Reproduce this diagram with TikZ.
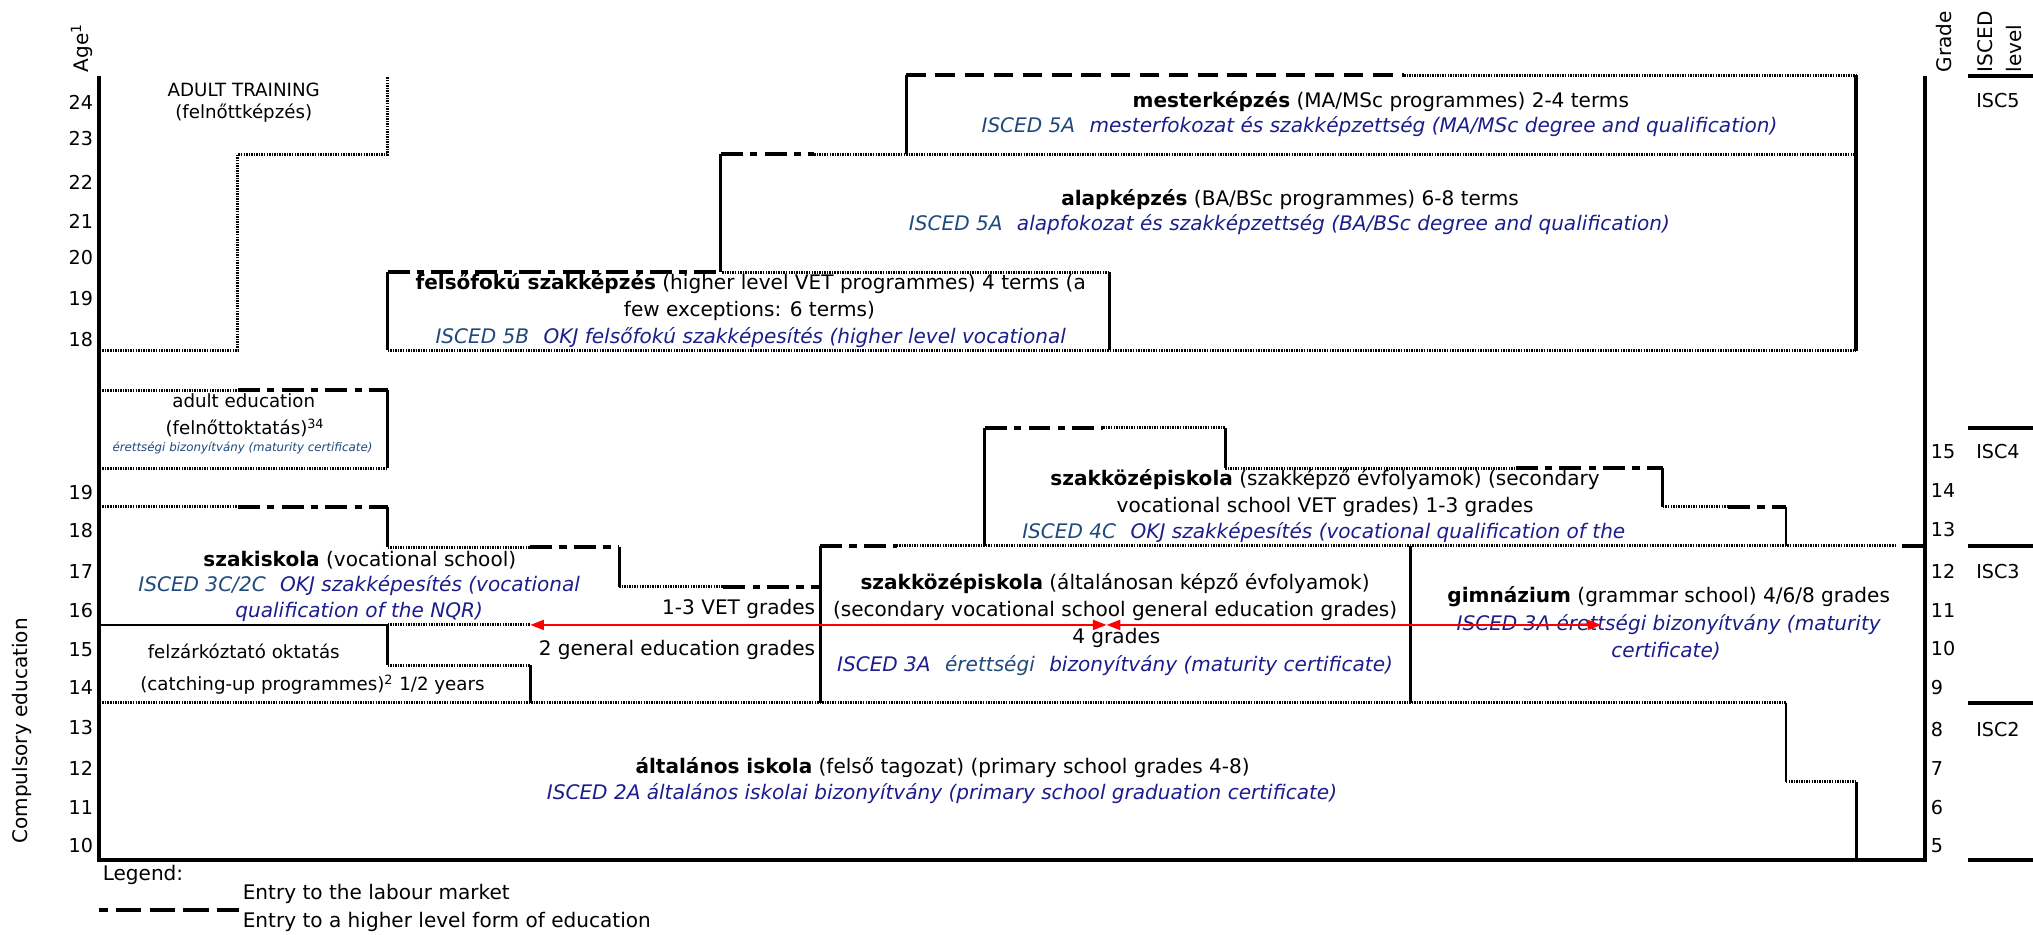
\documentclass[tikz,border=0pt]{standalone}
\usepackage{fontspec}
\setmainfont{DejaVu Sans}
\usetikzlibrary{arrows.meta}
\definecolor{navy}{RGB}{28,28,140}
\definecolor{steel}{RGB}{31,73,125}

\tikzset{
  market/.style={line width=1.6pt, dash pattern=on 0.8pt off 0.6pt},
  further/.style={line width=1.9pt, dash pattern=on 10.7pt off 5.3pt},
  mixed/.style={line width=2.2pt, dash pattern=on 12pt off 4pt on 4pt off 4pt},
  wall/.style={line width=1.6pt},
  frame/.style={line width=2.2pt},
  txt/.style={font=\fontsize{11}{13}\selectfont, inner sep=0pt},
  smalltxt/.style={font=\fontsize{10}{12}\selectfont, inner sep=0pt},
  tinytxt/.style={font=\fontsize{6.5}{8}\selectfont\itshape, text=steel, inner sep=0pt},
  isced/.style={font=\fontsize{11}{13}\selectfont\itshape, text=navy, inner sep=0pt},
  num/.style={font=\fontsize{10.5}{12}\selectfont, inner sep=0pt},
  redarrow/.style={red, line width=1.1pt, {Triangle[length=7.5pt,width=5.5pt]}-{Triangle[length=7.5pt,width=5.5pt]}}
}

\begin{document}
\begin{tikzpicture}[x=0.025cm,y=-0.025cm]
\useasboundingbox (0,0) rectangle (1568,721);

% frame and ISCED bars
\draw[frame] (76,59) -- (76,663) -- (1485,663) -- (1485,59);
\draw[frame] (1518,59) -- (1568,59);
\draw[frame] (1518,330) -- (1568,330);
\draw[frame] (1518,421) -- (1568,421);
\draw[frame] (1518,542) -- (1568,542);
\draw[frame] (1518,663) -- (1568,663);

% adult training
\draw[market] (77,270) -- (183.5,270) -- (183.5,119) -- (299,119) -- (299,59);

% higher education
\draw[wall] (699,119) -- (699,58);
\draw[further] (699,58) -- (1083,58);
\draw[market] (1083,58) -- (1431.5,58);
\draw[frame] (1431.5,58) -- (1431.5,271);
\draw[wall] (556,210) -- (556,119);
\draw[mixed] (556,119) -- (628,119);
\draw[market] (628,119) -- (1431.5,119);
\draw[wall] (299,270) -- (299,210);
\draw[mixed] (299,210) -- (557,210);
\draw[market] (557,210) -- (856,210);
\draw[wall] (856,210) -- (856,270);
\draw[market] (299,270) -- (1431.5,270);

% adult education
\draw[market] (77,301) -- (183.5,301);
\draw[mixed] (183.5,301) -- (299,301);
\draw[wall] (299,301) -- (299,361);
\draw[market] (77,361) -- (299,361);

% szakiskola
\draw[market] (77,391) -- (183.5,391);
\draw[mixed] (183.5,391) -- (299,391);
\draw[wall] (299,391) -- (299,422);
\draw[market] (299,422) -- (409,422);
\draw[mixed] (409,422) -- (477.5,422);
\draw[wall] (477.5,422) -- (477.5,452.5);
\draw[market] (477.5,452.5) -- (558,452.5);
\draw[mixed] (558,452.5) -- (632.5,452.5);
\draw[line width=0.7pt] (77,482) -- (299,482);
\draw[market] (299,482) -- (409,482);
\draw[wall] (299,482) -- (299,513);
\draw[market] (299,513) -- (409,513);
\draw[wall] (409,513) -- (409,542);

% secondary schools
\draw[wall] (632.5,421) -- (632.5,542);
\draw[mixed] (632.5,421) -- (691.5,421);
\draw[market] (691.5,421) -- (1462,421);
\draw[frame] (1467,421) -- (1485,421);
\draw[wall] (1088,421) -- (1088,542);
\draw[market] (77,542) -- (1377.5,542);
\draw[wall] (759.5,421) -- (759.5,330);
\draw[mixed] (759.5,330) -- (851,330);
\draw[market] (851,330) -- (945,330);
\draw[wall] (945,330) -- (945,361);
\draw[market] (945,361) -- (1169,361);
\draw[mixed] (1169,361) -- (1282.5,361);
\draw[wall] (1282.5,361) -- (1282.5,391);
\draw[market] (1282.5,391) -- (1333,391);
\draw[mixed] (1333,391) -- (1377.5,391);
\draw[wall] (1377.5,391) -- (1377.5,421);

% primary school
\draw[wall] (1377.5,542) -- (1377.5,603);
\draw[market] (1377.5,603) -- (1432,603);
\draw[wall] (1432,603) -- (1432,663);

% axis labels
\node[txt, rotate=90, anchor=west] (age) at (63,56) {Age\textsuperscript{1}};
\node[txt, rotate=90, anchor=west] (comp) at (17,651) {Compulsory education};
\node[txt, rotate=90, anchor=west] (grade) at (1499,56) {Grade};
\node[txt, rotate=90, anchor=west] (isc) at (1531,56) {ISCED};
\node[txt, rotate=90, anchor=west] (lev) at (1553,56) {level};

\node[num, anchor=east] (a24) at (72,79) {24};
\node[num, anchor=east] (a23) at (72,106.5) {23};
\node[num, anchor=east] (a22) at (72,141) {22};
\node[num, anchor=east] (a21) at (72,171) {21};
\node[num, anchor=east] (a20) at (72,199) {20};
\node[num, anchor=east] (a19) at (72,230.5) {19};
\node[num, anchor=east] (a18) at (72,261.5) {18};
\node[num, anchor=east] (b19) at (72,379.5) {19};
\node[num, anchor=east] (b18) at (72,409.5) {18};
\node[num, anchor=east] (b17) at (72,441) {17};
\node[num, anchor=east] (b16) at (72,471) {16};
\node[num, anchor=east] (b15) at (72,501) {15};
\node[num, anchor=east] (b14) at (72,530) {14};
\node[num, anchor=east] (b13) at (72,561.5) {13};
\node[num, anchor=east] (b12) at (72,593) {12};
\node[num, anchor=east] (b11) at (72,623) {11};
\node[num, anchor=east] (b10) at (72,652) {10};

\node[num, anchor=west] (g15) at (1489,348.5) {15};
\node[num, anchor=west] (g14) at (1489,378.5) {14};
\node[num, anchor=west] (g13) at (1489,408.5) {13};
\node[num, anchor=west] (g12) at (1489,440.5) {12};
\node[num, anchor=west] (g11) at (1489,470.5) {11};
\node[num, anchor=west] (g10) at (1489,500.5) {10};
\node[num, anchor=west] (g9) at (1489,530) {9};
\node[num, anchor=west] (g8) at (1489,562.5) {8};
\node[num, anchor=west] (g7) at (1489,593) {7};
\node[num, anchor=west] (g6) at (1489,623) {6};
\node[num, anchor=west] (g5) at (1489,652) {5};

\node[num, anchor=west] (i5) at (1524,77.5) {ISC5};
\node[num, anchor=west] (i4) at (1524,348.5) {ISC4};
\node[num, anchor=west] (i3) at (1524,440.5) {ISC3};
\node[num, anchor=west] (i2) at (1524,562.5) {ISC2};

% programme texts
\node[smalltxt] (at1) at (188,69) {ADULT TRAINING};
\node[smalltxt] (at2) at (188,87) {(felnőttképzés)};

\node[txt] (m1) at (1065,78) {\textbf{mesterképzés} (MA/MSc programmes) 2-4 terms};
\node[isced] (m2) at (1064,98) {\textcolor{steel}{ISCED 5A}\hspace{0.4em} mesterfokozat és szakképzettség (MA/MSc degree and qualification)};
\node[txt] (b1) at (995,154) {\textbf{alapképzés} (BA/BSc programmes) 6-8 terms};
\node[isced] (b2) at (994.5,173.5) {\textcolor{steel}{ISCED 5A}\hspace{0.4em} alapfokozat és szakképzettség (BA/BSc degree and qualification)};
\node[txt] (f1) at (579,219) {\textbf{felsőfokú szakképzés} (higher level VET programmes) 4 terms (a};
\node[txt] (f2) at (578,240) {few exceptions: 6 terms)};
\node[isced] (f3) at (579,260) {\textcolor{steel}{ISCED 5B}\hspace{0.4em} OKJ felsőfokú szakképesítés (higher level vocational};

\node[smalltxt] (ae1) at (188,309) {adult education};
\node[smalltxt] (ae2) at (189,330) {(felnőttoktatás)\textsuperscript{34}};
\node[tinytxt] (ae3) at (187,345.5) {érettségi bizonyítvány (maturity certificate)};

\node[txt] (s1) at (277.5,432) {\textbf{szakiskola} (vocational school)};
\node[isced] (s2) at (277,452) {\textcolor{steel}{ISCED 3C/2C}\hspace{0.4em} OKJ szakképesítés (vocational};
\node[isced] (s3) at (277,472) {qualification of the NQR)};
\node[smalltxt] (c1) at (188,502) {felzárkóztató oktatás};
\node[smalltxt] (c2) at (241,528) {(catching-up programmes)\textsuperscript{2} 1/2 years};
\node[txt, anchor=east] (v1) at (629,470) {1-3 VET grades};
\node[txt, anchor=east] (v2) at (629,501) {2 general education grades};

\node[txt] (k1) at (860,450) {\textbf{szakközépiskola} (általánosan képző évfolyamok)};
\node[txt] (k2) at (860,471) {(secondary vocational school general education grades)};
\node[txt] (k3) at (861,492) {4 grades};
\node[isced] (k4) at (860,513) {ISCED 3A\hspace{0.4em} \textcolor{steel}{érettségi}\hspace{0.4em} bizonyítvány (maturity certificate)};

\node[txt] (e1) at (1022,370) {\textbf{szakközépiskola} (szakképző évfolyamok) (secondary};
\node[txt] (e2) at (1022,391) {vocational school VET grades) 1-3 grades};
\node[isced] (e3) at (1021,411) {\textcolor{steel}{ISCED 4C}\hspace{0.4em} OKJ szakképesítés (vocational qualification of the};

\node[txt] (gy1) at (1287,460.5) {\textbf{gimnázium} (grammar school) 4/6/8 grades};
\node[isced] (gy2) at (1287,482) {ISCED 3A érettségi bizonyítvány (maturity};
\node[isced] (gy3) at (1285,502.5) {certificate)};

\node[txt] (p1) at (727,592) {\textbf{általános iskola} (felső tagozat) (primary school grades 4-8)};
\node[isced] (p2) at (726.5,612) {ISCED 2A általános iskolai bizonyítvány (primary school graduation certificate)};

% legend
\node[txt, anchor=west] (l0) at (79,675) {Legend:};
\node[txt, anchor=west] (l1) at (187,689.5) {Entry to the labour market};
\node[txt, anchor=west] (l2) at (187,711) {Entry to a higher level form of education};
\draw[line width=1.9pt, dash pattern=on 14pt off 4.5pt, dash phase=9pt] (76,702) -- (184,702);

% red arrows
\coordinate (pl) at (409,482);
\coordinate (pm) at (853.5,482);
\coordinate (pr) at (1235,482);
\draw[redarrow] (pl) -- (pm);
\draw[redarrow] (pm) -- (pr);
\end{tikzpicture}
\end{document}
